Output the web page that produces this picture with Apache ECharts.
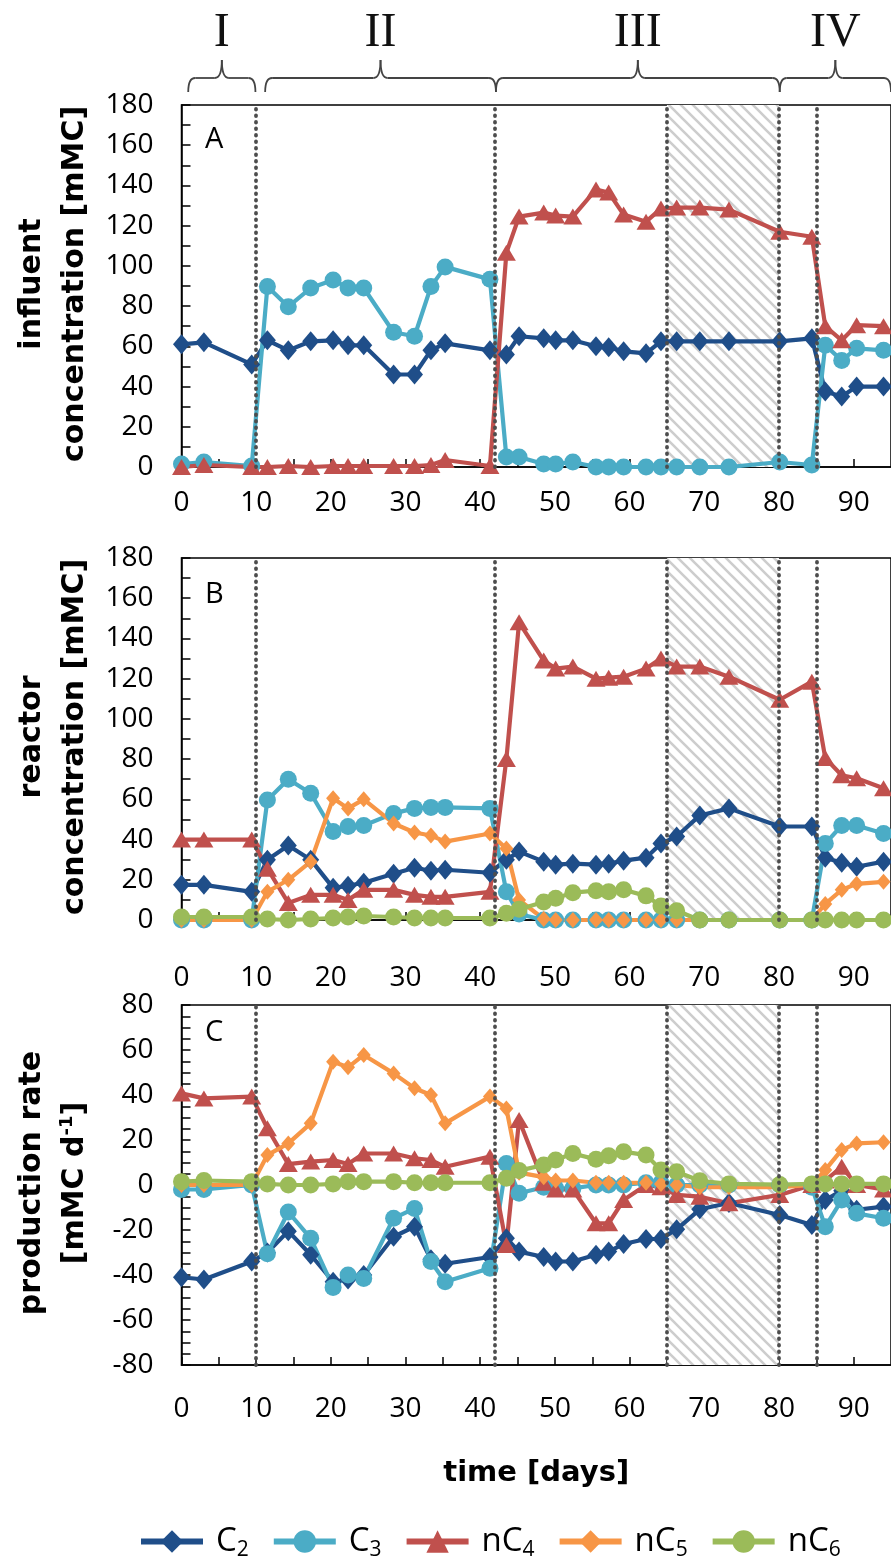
<!DOCTYPE html>
<html><head><meta charset="utf-8">
<script src="https://cdn.jsdelivr.net/npm/echarts@6/dist/echarts.min.js"></script>
<style>html,body{margin:0;padding:0;background:#fff}#c{width:891px;height:1562px}</style>
</head><body><div id="c"></div>
<script>
// ---- data ----
const days = [0,3,9.4,11.5,14.3,17.3,20.3,22.3,24.4,28.4,31.2,33.4,35.3,41.3,43.5,45.2,48.5,50.1,52.4,55.5,57.2,59.2,62.2,64.2,66.3,69.4,73.3,80.1,84.4,86.2,88.4,90.4,94];

// A: influent concentration [mMC]
const inflC2 = [61,62,51,63,58,62.5,63,60.5,60.5,46,46,58,61.5,58,56,65,64,63,63,60,59.5,57.5,56.5,62.5,62.5,62.5,62.5,62.5,64,37.5,35,40,40];
const inflC3 = [1.5,2.5,0.5,89.7,79.7,89,93,89,89,67,65,89.7,99.5,93.3,5,5,1.5,1.5,2.5,0,0,0,0,0,0,0,0,2.5,1,60.5,53,59,58];
const inflC4 = [0,1,0,0,0.5,0,0.5,0.5,0.5,0.5,0.5,1,3.5,0.5,106.5,124.5,126.5,125,124.5,138,136.5,125.5,122,128.5,129,129,128,117,114.5,70,63,70.5,70];

// B: reactor concentration [mMC]
const reacC2 = [17.5,17.5,14,30,37,30,16,17,18.5,23,26,24.5,25,23.5,30,34,29,27.5,28,27.5,28,29.5,31,38,41.5,52,55.5,46.5,46.5,31,28.5,26.5,29];
const reacC3 = [0,0,0,59.7,70,63,44,46.5,47,53,55.5,56,56,55.5,14,3,0,0,0,0,0,0,0,0,0,0,0,0,0,38,47,47,43];
const reacC4 = [40,40,40,25.5,8.5,12.5,12.5,10,15,15,12.5,11.5,11.5,14,80,148,129,125,126,120,120.5,121,125,130,126,126,121,109.5,118.5,80.5,72,70.5,65.5];
const reacC5 = [0,0,0,14,20,29,60.5,55.5,60,48,43.5,42,39,43,35.5,10,0.5,0,0,0,0,0,0,0,0,0,0,0,0,8,15,18,19];
const reacC6 = [1.5,1.5,1.5,0.5,0,0.5,1,1.5,2,1.5,1,1,1,1,3.3,5.3,9,10.8,13.6,14.6,14,15,12,7,4.6,0,0,0,0,0,0,0,0];

// C: production rate [mMC d-1]
const rateC2 = [-41,-42,-34,-30,-20.5,-31,-43,-42,-40,-23,-18.5,-33,-35,-32,-23.7,-29.6,-32,-34,-34,-31,-29.6,-26.2,-24,-24,-19.7,-10.8,-8,-13.3,-17.8,-6.7,-2.5,-11,-9.6];
const rateC3 = [-2,-2,0,-30.5,-12,-23.7,-45.5,-40,-41.5,-14.8,-10.4,-34,-43,-37,9.6,-3.7,-1,-1.5,-1.5,0,0,0,1,1,0,0,0,0,-1,-18.5,-6.7,-12.6,-14.8];
const rateC4 = [40.7,38.5,39.3,25.2,9.3,10.4,11.1,9.3,14,14,11.9,11.1,8.1,12.6,-26.7,28.9,1,-2,-2,-17,-17,-6.7,0,-1,-4.4,-5.2,-8.1,-4.4,0,2,8.1,0,-2];
const rateC5 = [0,0,0,13.3,18.5,27.4,54.8,52.3,57.8,49.6,43,40,27.4,39.3,34,5.5,3.5,2,2,1,1,1,1,0.5,0,-1,-1,-1,0,6.7,15.6,18.5,19];
const rateC6 = [1.5,2,1.5,0.5,0,0,0.5,1.5,1.5,1.5,1,1,1,1,3,6.4,8.9,11.1,14,11.4,13,14.8,13.3,6.7,5.9,1.9,0.5,0.2,0.5,0.5,0.5,0.5,0.5];

const phaseLines = [10,42,65,80,85];
const hatchRange = [65,80];
const phaseLabels = ['I','II','III','IV'];
const phaseSpans = [[0.9,9.9],[11.2,42.1],[42.1,80.1],[80.1,95]];
const xTicks = {min:0, max:95, step:5, labelStep:10};
const legendNames = ['C2','C3','nC4','nC5','nC6'];

// ---- styles ----
const SANS = '"Open Sans", sans-serif';
const BOLD = '"DejaVu Sans", sans-serif';
const sty = {
  C2:  {color:'#1F4E89', symbol:'diamond',  size:[17,20]},
  C3:  {color:'#4BACC6', symbol:'circle',   size:17},
  nC4: {color:'#C0504D', symbol:'triangle', size:[19,16]},
  nC5: {color:'#F79646', symbol:'diamond',  size:[14,16]},
  nC6: {color:'#9BBB59', symbol:'circle',   size:17}
};

const grids = [
  {left:181.5, width:713.5, top:105, height:362},
  {left:181.5, width:713.5, top:558, height:362},
  {left:181.5, width:713.5, top:1005, height:360}
].map(g => Object.assign({show:true, borderColor:'#000', borderWidth:1.5, backgroundColor:'transparent'}, g));

function xAxis(gi, margin, extra) {
  return Object.assign({
    type:'value', gridIndex:gi, min:xTicks.min, max:xTicks.max, interval:xTicks.step,
    axisLine:{onZero:false, lineStyle:{color:'#000', width:1.5}},
    axisTick:{inside:true, length:8, lineStyle:{color:'#000', width:1.5}},
    splitLine:{show:false},
    axisLabel:{margin, fontFamily:SANS, fontSize:28, color:'#000', showMaxLabel:false,
      formatter: v => (v % xTicks.labelStep === 0 ? String(v) : '')}
  }, extra || {});
}
function yAxis(gi, min, max, step, lab) {
  return {
    type:'value', gridIndex:gi, min, max, interval:step,
    axisLine:{show:true, onZero:false, lineStyle:{color:'#000', width:1.5}},
    axisTick:{show:true, inside:true, length:9, lineStyle:{color:'#000', width:1.5}},
    splitLine:{show:false},
    axisLabel:{margin:28, fontFamily:SANS, fontSize:28, color:'#000', showMaxLabel:true,
      formatter: v => (v % lab === 0 ? String(v) : '')}
  };
}

function hatchCanvas() {
  const n = 12;
  const c = document.createElement('canvas'); c.width = n; c.height = n;
  const g = c.getContext('2d');
  g.fillStyle = '#fff'; g.fillRect(0,0,n,n);
  g.strokeStyle = '#cdcdcd'; g.lineWidth = 2.6;
  g.beginPath();
  g.moveTo(-3,-3); g.lineTo(n+3,n+3);
  g.moveTo(-3,n-3); g.lineTo(3,n+3);
  g.moveTo(n-3,-3); g.lineTo(n+3,3);
  g.stroke();
  return c;
}
const hatch = hatchCanvas();

function helper(gi) {
  return {
    type:'line', xAxisIndex:gi, yAxisIndex:gi, data:[], z:1, silent:true,
    markArea:{silent:true, itemStyle:{color:{image:hatch, repeat:'repeat'}},
      data:[[{xAxis:hatchRange[0]},{xAxis:hatchRange[1]}]]},
    markLine:{silent:true, symbol:['none','none'], label:{show:false},
      lineStyle:{color:'#4d4d4d', type:[0.5,6], width:3.8, cap:'round'},
      emphasis:{disabled:true},
      data: phaseLines.map(d => ({xAxis:d}))}
  };
}
function ser(name, gi, vals) {
  const s = sty[name];
  return {
    name, type:'line', xAxisIndex:gi, yAxisIndex:gi, z:3,
    data: days.map((d,i) => [d, vals[i]]),
    symbol:s.symbol, symbolSize:s.size, showAllSymbol:true,
    lineStyle:{color:s.color, width:4.2},
    itemStyle:{color:s.color},
    emphasis:{disabled:true}
  };
}

const series = [
  helper(0), helper(1), helper(2),
  ser('C2',0,inflC2), ser('C3',0,inflC3), ser('nC4',0,inflC4),
  ser('C2',1,reacC2), ser('C3',1,reacC3), ser('nC4',1,reacC4), ser('nC5',1,reacC5), ser('nC6',1,reacC6),
  ser('C2',2,rateC2), ser('C3',2,rateC3), ser('nC4',2,rateC4), ser('nC5',2,rateC5), ser('nC6',2,rateC6)
];

const chart = echarts.init(document.getElementById('c'), null, {renderer:'canvas'});
const option = {
  animation:false,
  backgroundColor:'#fff',
  grid: grids,
  xAxis: [
    xAxis(0, 22),
    xAxis(1, 44),
    xAxis(2, 30, {name:'time [days]', nameLocation:'middle', nameGap:94,
      nameTextStyle:{fontFamily:BOLD, fontWeight:'bold', fontSize:29, color:'#000'}})
  ],
  yAxis: [
    yAxis(0, 0, 180, 10, 20),
    yAxis(1, 0, 180, 10, 20),
    yAxis(2, -80, 80, 5, 20)
  ],
  legend: {
    data: legendNames, left:133, top:1520, itemWidth:62, itemHeight:28, itemGap:22,
    selectedMode:false,
    lineStyle:{width:6},
    formatter: n => n.replace(/(\d)/, '{sub|$1}'),
    textStyle:{fontFamily:SANS, fontSize:33, color:'#000', padding:[0,0,0,8],
      rich:{sub:{fontFamily:SANS, fontSize:21, color:'#000', padding:[18,0,0,0]}}}
  },
  series
};
chart.setOption(option);

// annotations: panel letters, y-axis titles, phase braces
const gfx = [];
const letters = [['A',140],['B',595],['C',1033]];
letters.forEach(([t,y]) => gfx.push({type:'text', x:205, y, style:{text:t, font:'29px ' + SANS, fill:'#000', textAlign:'left', textVerticalAlign:'middle'}}));
const yTitles = [
  ['influent\nconcentration [mMC]', grids[0]],
  ['reactor\nconcentration [mMC]', grids[1]],
  ['production rate\n[mMC d{sup|-1}]', grids[2]]
];
yTitles.forEach(([t,g]) => gfx.push({
  type:'text', x:54, y:g.top + g.height/2 - 2, rotation:Math.PI/2,
  style:{text:t, fontFamily:BOLD, fontWeight:'bold', fontSize:30, lineHeight:43, fill:'#000',
    textAlign:'center', textVerticalAlign:'middle',
    rich:{sup:{fontFamily:BOLD, fontWeight:'bold', fontSize:18, fill:'#000', padding:[0,0,16,0]}}}
}));
const px = d => chart.convertToPixel({xAxisIndex:0}, d);
const braceStyle = {stroke:'#444', lineWidth:1.8, fill:null};
phaseSpans.forEach((sp, i) => {
  const x1 = px(sp[0]), x2 = px(sp[1]), xm = (x1 + x2) / 2;
  const yb = 92, yl = 78, yt = 60, r = 7;
  gfx.push({type:'bezierCurve', shape:{x1:x1, y1:yb, x2:x1+r, y2:yl, cpx1:x1, cpy1:yl}, style:braceStyle});
  gfx.push({type:'line', shape:{x1:x1+r, y1:yl, x2:xm-r, y2:yl}, style:braceStyle});
  gfx.push({type:'bezierCurve', shape:{x1:xm-r, y1:yl, x2:xm, y2:yt, cpx1:xm, cpy1:yl}, style:braceStyle});
  gfx.push({type:'bezierCurve', shape:{x1:xm, y1:yt, x2:xm+r, y2:yl, cpx1:xm, cpy1:yl}, style:braceStyle});
  gfx.push({type:'line', shape:{x1:xm+r, y1:yl, x2:x2-r, y2:yl}, style:braceStyle});
  gfx.push({type:'bezierCurve', shape:{x1:x2-r, y1:yl, x2:x2, y2:yb, cpx1:x2, cpy1:yl}, style:braceStyle});
  gfx.push({type:'text', x:xm, y:33, style:{text:phaseLabels[i], font:'48px "Liberation Serif", serif', fill:'#111', textAlign:'center', textVerticalAlign:'middle'}});
});
chart.setOption({graphic: gfx});
</script></body></html>
